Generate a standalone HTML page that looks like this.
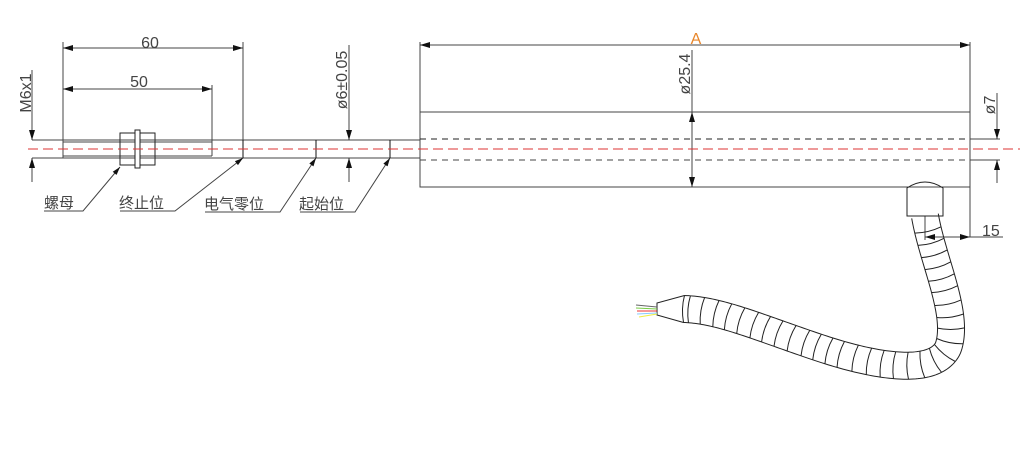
<!DOCTYPE html>
<html><head><meta charset="utf-8"><style>
html,body{margin:0;padding:0;background:#fff;width:1024px;height:476px;overflow:hidden}
svg{display:block}
text{font-family:"Liberation Sans","Noto Sans CJK SC",sans-serif;fill:#444}
</style></head><body>
<svg id="s" width="1024" height="476" viewBox="0 0 1024 476" xmlns="http://www.w3.org/2000/svg">
<defs>
<marker id="a" viewBox="0 0 10 6" refX="10" refY="3" markerWidth="10" markerHeight="6" orient="auto-start-reverse" markerUnits="userSpaceOnUse"><path d="M0,0L10,3L0,6z" fill="#111"/></marker>
<marker id="b" viewBox="0 0 10 6" refX="10" refY="3" markerWidth="9" markerHeight="5" orient="auto-start-reverse" markerUnits="userSpaceOnUse"><path d="M0,0L10,3L0,6z" fill="#111"/></marker>
</defs>
<g stroke="#444" stroke-width="1" fill="none">
<line x1="32" y1="140" x2="420" y2="140"/>
<line x1="32" y1="158" x2="420" y2="158"/>
<line x1="63" y1="140" x2="63" y2="158"/>
<line x1="63" y1="142" x2="212" y2="142"/>
<line x1="63" y1="156" x2="212" y2="156"/>
<line x1="212" y1="142" x2="212" y2="156"/>
<line x1="243" y1="140" x2="243" y2="158" stroke="#111"/>
<line x1="316" y1="140" x2="316" y2="158" stroke="#111"/>
<line x1="390" y1="140" x2="390" y2="158" stroke="#111"/>
<rect x="120" y="133" width="35" height="32" stroke="#222"/>
<line x1="120" y1="140" x2="155" y2="140"/>
<line x1="120" y1="158" x2="155" y2="158"/>
<rect x="135" y="130" width="5" height="38" fill="#fff" stroke="#222"/>
<rect x="420" y="112" width="550" height="75"/>
<line x1="970" y1="42" x2="970" y2="237"/>
<line x1="420" y1="139" x2="1000" y2="139" stroke-dasharray="6,5" stroke="#222"/>
<line x1="420" y1="160" x2="1000" y2="160" stroke-dasharray="6,5"/>
<line x1="970" y1="139" x2="1000" y2="139"/>
<line x1="970" y1="160" x2="1000" y2="160"/>
<line x1="63" y1="42" x2="63" y2="140"/>
<line x1="243" y1="42" x2="243" y2="140"/>
<line x1="212" y1="85" x2="212" y2="142"/>
<line x1="63" y1="48" x2="243" y2="48" marker-start="url(#a)" marker-end="url(#a)"/>
<line x1="63" y1="89" x2="212" y2="89" marker-start="url(#a)" marker-end="url(#a)"/>
<line x1="420" y1="42" x2="420" y2="112"/>
<line x1="420" y1="45" x2="970" y2="45" marker-start="url(#a)" marker-end="url(#a)"/>
<line x1="692" y1="50" x2="692" y2="112"/>
<line x1="692" y1="112" x2="692" y2="187" marker-start="url(#a)" marker-end="url(#a)"/>
<line x1="32" y1="105" x2="32" y2="140" marker-end="url(#a)"/>
<line x1="32" y1="158" x2="32" y2="182" marker-start="url(#a)"/>
<line x1="32" y1="70" x2="32" y2="105"/>
<line x1="349" y1="45" x2="349" y2="140" marker-end="url(#a)"/>
<line x1="349" y1="158" x2="349" y2="182" marker-start="url(#a)"/>
<line x1="997" y1="93" x2="997" y2="139" marker-end="url(#a)"/>
<line x1="997" y1="160" x2="997" y2="183" marker-start="url(#a)"/>
<line x1="925" y1="237" x2="1003" y2="237"/>
<line x1="925" y1="237" x2="970" y2="237" marker-start="url(#a)" marker-end="url(#a)"/>
<line x1="925" y1="216" x2="925" y2="240"/>
<polyline points="44,211 83,211 120,167" marker-end="url(#b)"/>
<polyline points="120,211 175,211 243,158" marker-end="url(#b)"/>
<polyline points="205,212 280,212 316,158" marker-end="url(#b)"/>
<polyline points="300,212 355,212 390,158" marker-end="url(#b)"/>
<path d="M907,216 V188 Q925,176 943,188 V216 Z" stroke="#222"/>
<polyline id="tip" points="684,296 657,303 657,315 684,323" stroke="#222"/>
</g>
<line x1="28" y1="149" x2="1020" y2="149" stroke="#d33" stroke-width="1" stroke-dasharray="10,5"/>
<g stroke-width="1">
<line x1="636" y1="305" x2="657" y2="307" stroke="#666"/>
<line x1="636" y1="308" x2="657" y2="309" stroke="#7c4"/>
<line x1="637" y1="311" x2="657" y2="311" stroke="#e33"/>
<line x1="637" y1="314" x2="657" y2="313" stroke="#8cf"/>
<line x1="639" y1="317" x2="657" y2="314" stroke="#ee4"/>
</g>
<g id="cab" stroke="#222" stroke-width="1" fill="none"></g>
<g font-size="16">
<text x="150" y="48" text-anchor="middle">60</text>
<text x="139" y="87" text-anchor="middle">50</text>
<text x="696" y="44" text-anchor="middle" style="fill:#e8862a">A</text>
<text x="982" y="236">15</text>
<text transform="translate(31,93) rotate(-90)" text-anchor="middle">M6x1</text>
<text transform="translate(347,80) rotate(-90)" text-anchor="middle">ø6±0.05</text>
<text transform="translate(690,74) rotate(-90)" text-anchor="middle">ø25.4</text>
<text transform="translate(995,105) rotate(-90)" text-anchor="middle">ø7</text>
</g>
<g font-size="15">
<text x="44" y="208">螺母</text>
<text x="119" y="208">终止位</text>
<text x="204" y="209">电气零位</text>
<text x="299" y="209">起始位</text>
</g>
</svg>
<script>
(function(){
var segs=[[[925,216],[933,262],[960,315],[948,348]],[[948,348],[935,375],[880,368],[820,348]],[[820,348],[760,328],[720,310],[684,309]]];
function bz(s,t){var u=1-t;return [u*u*u*s[0][0]+3*u*u*t*s[1][0]+3*u*t*t*s[2][0]+t*t*t*s[3][0],u*u*u*s[0][1]+3*u*u*t*s[1][1]+3*u*t*t*s[2][1]+t*t*t*s[3][1]];}
var pts=[];segs.forEach(function(s,i){for(var k=0;k<=60;k++){if(i>0&&k==0)continue;pts.push(bz(s,k/60));}});
var L=[],R=[],W=13.5,T=[];
for(var i=0;i<pts.length;i++){var a=pts[Math.max(0,i-1)],b=pts[Math.min(pts.length-1,i+1)];var dx=b[0]-a[0],dy=b[1]-a[1],l=Math.hypot(dx,dy);var nx=-dy/l,ny=dx/l;T.push([dx/l,dy/l]);L.push([pts[i][0]+nx*W,pts[i][1]+ny*W]);R.push([pts[i][0]-nx*W,pts[i][1]-ny*W]);}
var g=document.getElementById('cab'),h='';
h+='<polyline points="'+L.map(function(p){return p.join(',')}).join(' ')+'"/>';
h+='<polyline points="'+R.map(function(p){return p.join(',')}).join(' ')+'"/>';
var acc=0,last=0;
for(var i=1;i<pts.length;i++){acc+=Math.hypot(pts[i][0]-pts[i-1][0],pts[i][1]-pts[i-1][1]);if(acc-last>=12||i==pts.length-1){last=acc;var cx=pts[i][0]+T[i][0]*3,cy=pts[i][1]+T[i][1]*3;h+='<path d="M'+L[i][0]+','+L[i][1]+' Q'+cx+','+cy+' '+R[i][0]+','+R[i][1]+'"/>';}}
g.innerHTML=h;
var e=pts.length-1;document.getElementById('tip').setAttribute('points',L[e].join(',')+' 657,303 657,315 '+R[e].join(','));
})();
</script>
</body></html>
